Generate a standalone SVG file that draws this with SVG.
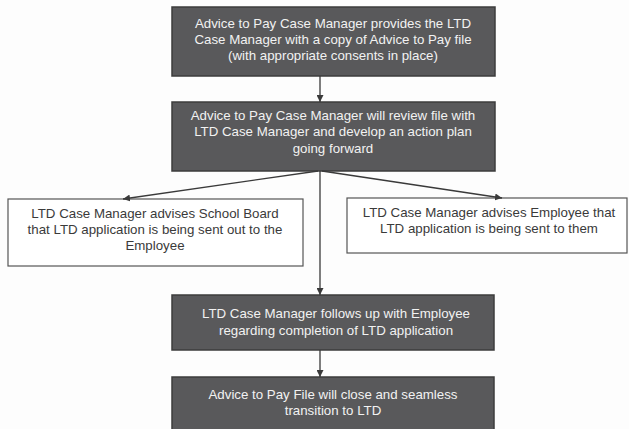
<svg xmlns="http://www.w3.org/2000/svg" width="629" height="429" viewBox="0 0 629 429">
<defs>
<marker id="ah" viewBox="0 0 10 10" refX="10" refY="5" markerWidth="7" markerHeight="7" orient="auto" markerUnits="userSpaceOnUse">
<path d="M0,0 L10,5 L0,10 z" fill="#3a3a3a"/>
</marker>
<style>
.dark rect{fill:#59595b;stroke:#3c3c3c;stroke-width:1.5}
.light rect{fill:#ffffff;stroke:#555555;stroke-width:1.2}
.dark text{fill:#f2f2f2;font-family:"Liberation Sans",Arial,sans-serif;font-size:13.3px;text-anchor:middle}
.light text{fill:#3a3a3a;font-family:"Liberation Sans",Arial,sans-serif;font-size:13.3px;text-anchor:middle}
.conn line{stroke:#3a3a3a;stroke-width:1.3;fill:none}
</style>
</defs>
<rect width="629" height="429" fill="#fdfdfd"/>
<g id="n1" class="dark">
<rect x="172" y="7" width="323" height="69"/>
<text x="333" y="28">Advice to Pay Case Manager provides the LTD</text>
<text x="333" y="44">Case Manager with a copy of Advice to Pay file</text>
<text x="333" y="60">(with appropriate consents in place)</text>
</g>
<g id="n2" class="dark">
<rect x="172" y="102" width="323" height="69"/>
<text x="333" y="120">Advice to Pay Case Manager will review file with</text>
<text x="333" y="136">LTD Case Manager and develop an action plan</text>
<text x="333" y="153">going forward</text>
</g>
<g id="n3" class="light">
<rect x="8" y="199" width="295" height="67"/>
<text x="155" y="218">LTD Case Manager advises School Board</text>
<text x="155" y="234">that LTD application is being sent out to the</text>
<text x="155" y="250">Employee</text>
</g>
<g id="n4" class="light">
<rect x="347" y="198" width="280" height="55"/>
<text x="489" y="217">LTD Case Manager advises Employee that</text>
<text x="489" y="233">LTD application is being sent to them</text>
</g>
<g id="n5" class="dark">
<rect x="172" y="295" width="322" height="55"/>
<text x="336" y="318">LTD Case Manager follows up with Employee</text>
<text x="336" y="335">regarding completion of LTD application</text>
</g>
<g id="n6" class="dark">
<rect x="172" y="377" width="322" height="60"/>
<text x="333" y="399">Advice to Pay File will close and seamless</text>
<text x="333" y="415">transition to LTD</text>
</g>
<g id="connectors" class="conn">
<line x1="320" y1="76" x2="320" y2="102" marker-end="url(#ah)"/>
<line x1="318" y1="171" x2="123" y2="199" marker-end="url(#ah)"/>
<line x1="322" y1="171" x2="502" y2="198" marker-end="url(#ah)"/>
<line x1="320" y1="171" x2="320" y2="295" marker-end="url(#ah)"/>
<line x1="320" y1="350" x2="320" y2="377" marker-end="url(#ah)"/>
</g>
</svg>
